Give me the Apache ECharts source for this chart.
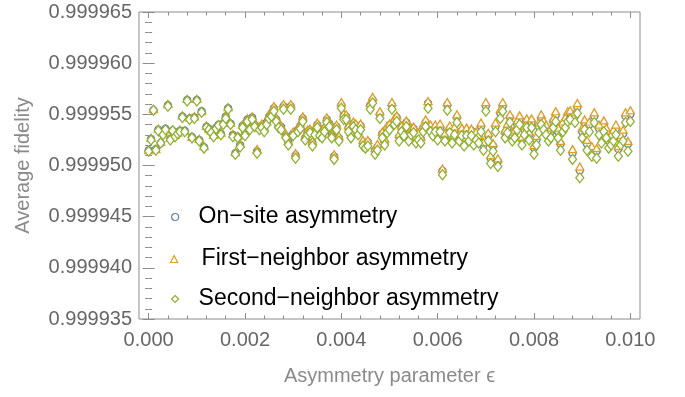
<!DOCTYPE html>
<html>
<head>
<meta charset="utf-8">
<script src="https://cdn.jsdelivr.net/npm/echarts@6/dist/echarts.min.js"></script>
<style>
  html, body { margin: 0; padding: 0; background: #ffffff; }
  #chart { width: 685px; height: 397px; }
</style>
</head>
<body>
<div id="chart"></div>
<script>
// Asymmetry parameter grid: 0 to 0.01 in steps of 5e-5
const epsilon = Array.from({ length: 201 }, (_, i) => +(i * 0.00005).toFixed(5));

// Average fidelity for on-site asymmetry
const onSite = [
  0.9999515,0.9999526,0.9999554,0.9999516,0.9999535,0.9999522,0.9999531,0.9999536,0.9999559,0.9999526,
  0.9999534,0.9999529,0.9999532,0.9999534,0.9999548,0.9999534,0.9999564,0.9999546,0.9999528,0.9999547,
  0.9999564,0.9999525,0.9999553,0.9999518,0.9999538,0.9999536,0.9999533,0.9999529,0.9999537,0.999954,
  0.9999531,0.9999541,0.9999548,0.9999556,0.9999541,0.999953,0.9999512,0.9999528,0.999952,
  0.9999539,0.9999531,0.9999545,0.9999537,0.9999547,0.999954,0.9999514,0.9999537,0.9999539,0.9999535,
  0.9999542,0.9999548,0.9999551,0.9999556,0.9999545,0.9999539,0.9999538,0.9999558,0.9999529,0.9999523,
  0.9999558,0.9999531,0.999951,0.9999535,0.9999539,0.9999546,0.9999527,0.9999533,0.9999534,0.9999522,
  0.9999533,0.999954,0.9999532,0.9999529,0.9999536,0.9999545,0.9999541,0.999953,0.9999509,0.9999538,
  0.9999527,0.9999559,0.9999549,0.9999548,0.9999537,0.999953,0.9999541,0.9999539,0.9999533,0.9999539,
  0.9999522,0.999952,0.9999523,0.9999559,0.9999564,0.9999515,0.9999518,0.999955,0.9999531,0.9999523,
  0.9999536,0.9999539,0.9999559,0.9999543,0.9999547,0.9999528,0.9999537,0.9999533,0.9999542,0.9999528,
  0.9999534,0.9999536,0.9999526,0.9999529,0.9999526,0.9999537,0.9999542,0.9999561,0.9999537,0.9999533,
  0.9999537,0.999953,0.9999537,0.9999495,0.9999529,0.9999559,0.9999536,0.9999527,0.9999534,0.9999547,
  0.9999528,0.9999534,0.9999524,0.9999533,0.9999529,0.9999534,0.9999525,0.9999529,0.9999527,0.9999538,
  0.999952,0.9999558,0.9999529,0.9999507,0.9999519,0.9999538,0.9999504,0.9999551,0.9999558,0.9999532,
  0.9999537,0.9999547,0.9999529,0.9999532,0.999954,0.9999545,0.9999525,0.9999535,0.9999543,0.999953,
  0.9999542,0.9999517,0.9999525,0.9999538,0.9999546,0.999954,0.9999536,0.999953,0.9999533,0.9999543,
  0.9999549,0.9999533,0.9999521,0.9999539,0.9999543,0.9999549,0.9999551,0.9999512,0.9999548,0.9999557,
  0.9999495,0.9999533,0.9999541,0.9999521,0.999954,0.9999515,0.9999548,0.9999514,0.9999536,0.9999528,
  0.999954,0.9999533,0.9999524,0.9999526,0.9999531,0.9999536,0.9999516,0.9999526,0.9999531,0.9999548,
  0.9999521,0.999955
];

// Average fidelity for first-neighbor asymmetry
const firstNeighbor = [
  0.9999515,0.9999527,0.9999555,0.9999516,0.9999536,0.9999523,0.9999532,0.9999536,0.999956,0.9999527,
  0.9999535,0.999953,0.9999532,0.9999535,0.9999549,0.9999534,0.9999565,0.9999547,0.9999528,0.9999548,
  0.9999565,0.9999526,0.9999553,0.9999519,0.9999539,0.9999536,0.9999534,0.999953,0.9999538,0.999954,
  0.9999532,0.9999542,0.9999549,0.9999557,0.9999542,0.9999531,0.9999513,0.9999529,0.9999521,
  0.999954,0.9999533,0.9999546,0.9999539,0.9999548,0.9999542,0.9999516,0.9999538,0.9999541,0.9999537,
  0.9999543,0.999955,0.9999552,0.9999558,0.9999547,0.9999541,0.9999539,0.999956,0.9999531,0.9999524,
  0.999956,0.9999533,0.9999512,0.9999537,0.999954,0.9999548,0.9999529,0.9999535,0.9999536,0.9999524,
  0.9999534,0.9999542,0.9999534,0.9999531,0.9999538,0.9999547,0.9999543,0.9999531,0.9999511,0.999954,
  0.9999529,0.9999562,0.9999551,0.999955,0.9999539,0.9999533,0.9999543,0.9999541,0.9999536,0.9999541,
  0.9999525,0.9999522,0.9999525,0.9999561,0.9999567,0.9999517,0.9999521,0.9999553,0.9999533,0.9999526,
  0.9999539,0.9999541,0.9999562,0.9999546,0.9999549,0.9999531,0.9999539,0.9999536,0.9999544,0.9999531,
  0.9999537,0.9999538,0.9999529,0.9999532,0.9999528,0.999954,0.9999545,0.9999563,0.999954,0.9999536,
  0.999954,0.9999533,0.9999541,0.9999497,0.9999532,0.9999562,0.9999539,0.999953,0.9999538,0.999955,
  0.9999531,0.9999537,0.9999527,0.9999537,0.9999532,0.9999536,0.9999528,0.9999533,0.999953,0.9999542,
  0.9999523,0.9999562,0.9999532,0.999951,0.9999522,0.9999542,0.9999507,0.9999555,0.9999562,0.9999535,
  0.9999541,0.999955,0.9999533,0.9999535,0.9999544,0.9999549,0.9999528,0.9999539,0.9999546,0.9999533,
  0.9999546,0.999952,0.9999529,0.9999542,0.999955,0.9999544,0.999954,0.9999533,0.9999537,0.9999546,
  0.9999553,0.9999537,0.9999524,0.9999543,0.9999547,0.9999553,0.9999554,0.9999516,0.9999552,0.9999561,
  0.9999499,0.9999537,0.9999545,0.9999525,0.9999543,0.9999519,0.9999552,0.9999517,0.999954,0.9999532,
  0.9999544,0.9999537,0.9999527,0.999953,0.9999535,0.999954,0.9999519,0.999953,0.9999535,0.9999552,
  0.9999524,0.9999554
];

// Average fidelity for second-neighbor asymmetry
const secondNeighbor = [
  0.9999514,0.9999525,0.9999554,0.9999515,0.9999534,0.9999522,0.999953,0.9999535,0.9999558,0.9999525,
  0.9999534,0.9999528,0.9999531,0.9999533,0.9999547,0.9999533,0.9999563,0.9999545,0.9999527,0.9999546,
  0.9999563,0.9999524,0.9999552,0.9999517,0.9999537,0.9999535,0.9999532,0.9999528,0.9999536,0.9999539,
  0.999953,0.999954,0.9999546,0.9999555,0.999954,0.9999528,0.9999511,0.9999527,0.9999518,
  0.9999537,0.9999529,0.9999543,0.9999535,0.9999545,0.9999538,0.9999512,0.9999535,0.9999537,0.9999533,
  0.999954,0.9999546,0.9999548,0.9999553,0.9999543,0.9999537,0.9999535,0.9999555,0.9999527,0.999952,
  0.9999555,0.9999529,0.9999507,0.9999533,0.9999536,0.9999543,0.9999525,0.999953,0.9999532,0.9999519,
  0.999953,0.9999537,0.9999529,0.9999527,0.9999533,0.9999542,0.9999538,0.9999527,0.9999506,0.9999535,
  0.9999524,0.9999556,0.9999545,0.9999545,0.9999533,0.9999527,0.9999538,0.9999535,0.999953,0.9999535,
  0.9999519,0.9999517,0.9999519,0.9999555,0.9999561,0.9999511,0.9999515,0.9999546,0.9999527,0.999952,
  0.9999532,0.9999535,0.9999555,0.999954,0.9999543,0.9999524,0.9999533,0.9999529,0.9999538,0.9999524,
  0.999953,0.9999532,0.9999522,0.9999525,0.9999522,0.9999533,0.9999538,0.9999556,0.9999533,0.9999529,
  0.9999533,0.9999525,0.9999533,0.9999491,0.9999524,0.9999554,0.9999532,0.9999522,0.999953,0.9999542,
  0.9999524,0.9999529,0.9999519,0.9999529,0.9999524,0.9999529,0.999952,0.9999525,0.9999522,0.9999533,
  0.9999515,0.9999553,0.9999524,0.9999502,0.9999514,0.9999533,0.9999499,0.9999546,0.9999553,0.9999527,
  0.9999532,0.9999542,0.9999524,0.9999527,0.9999535,0.999954,0.999952,0.999953,0.9999537,0.9999525,
  0.9999537,0.9999511,0.999952,0.9999532,0.999954,0.9999535,0.999953,0.9999524,0.9999527,0.9999537,
  0.9999543,0.9999527,0.9999515,0.9999533,0.9999537,0.9999543,0.9999545,0.9999506,0.9999542,0.9999551,
  0.9999488,0.9999527,0.9999535,0.9999515,0.9999533,0.9999509,0.9999542,0.9999507,0.999953,0.9999522,
  0.9999533,0.9999527,0.9999517,0.999952,0.9999524,0.999953,0.9999509,0.999952,0.9999524,0.9999542,
  0.9999514,0.9999543
];

const seriesNames = ['On\u2212site asymmetry', 'First\u2212neighbor asymmetry', 'Second\u2212neighbor asymmetry'];
const xTicks = [0, 0.002, 0.004, 0.006, 0.008, 0.01];
const yTicks = [0.999935, 0.99994, 0.999945, 0.99995, 0.999955, 0.99996, 0.999965];

// minor ticks: 4 between consecutive major x ticks, 4 between major y ticks
function minorBetween(major, parts) {
  const out = [];
  for (let k = 0; k + 1 < major.length; k++) {
    const step = (major[k + 1] - major[k]) / parts;
    for (let j = 1; j < parts; j++) out.push(major[k] + j * step);
  }
  return out;
}
const xMinor = minorBetween(xTicks, 5);
const yMinor = minorBetween(yTicks, 5);

const FONT = '"Liberation Sans", Arial, Helvetica, sans-serif';
const FRAME = '#8c8c8c';
const TICK_TEXT = '#666666';
const TITLE_TEXT = '#8a8a8a';
const COLORS = ['#5e81b5', '#e19c24', '#8fb032'];
const SYMBOLS = ['circle', 'triangle', 'diamond'];
const SIZES = [[7, 7], [8, 7], [8, 10]];

const X_MIN = -0.0002, X_MAX = 0.0102;
const Y_MIN = 0.999935, Y_MAX = 0.999965;

function tickAxis(kind, position, values, len, labelled) {
  const base = {
    type: 'value',
    position: position,
    min: kind === 'x' ? X_MIN : Y_MIN,
    max: kind === 'x' ? X_MAX : Y_MAX,
    axisLine: { show: false },
    splitLine: { show: false },
    axisTick: { show: true, inside: true, length: len, customValues: values, lineStyle: { color: FRAME, width: 1 } },
    axisLabel: { show: false }
  };
  if (labelled) {
    base.axisLabel = {
      show: true,
      customValues: values,
      formatter: kind === 'x' ? (v) => v.toFixed(3) : (v) => v.toFixed(6),
      color: TICK_TEXT,
      fontSize: 20,
      fontFamily: FONT,
      margin: kind === 'x' ? 11 : 7
    };
  }
  return base;
}

const xMain = tickAxis('x', 'bottom', xTicks, 6, true);
xMain.name = 'Asymmetry parameter \u03f5';
xMain.nameLocation = 'middle';
xMain.nameGap = 47;
xMain.nameMoveOverlap = false;
xMain.nameTextStyle = { color: TITLE_TEXT, fontSize: 20, fontFamily: FONT, verticalAlign: 'top' };

const yMain = tickAxis('y', 'left', yTicks, 6, true);
yMain.name = 'Average fidelity';
yMain.nameLocation = 'middle';
yMain.nameGap = 106;
yMain.nameRotate = 90;
yMain.nameTextStyle = { color: TITLE_TEXT, fontSize: 20, fontFamily: FONT };

const data = [onSite, firstNeighbor, secondNeighbor];

// legend rows: icon centre near x=174, text indented after it
const legendLayout = [
  { top: 217, left: 171, pad: 15 },
  { top: 259, left: 170, pad: 19 },
  { top: 299, left: 171, pad: 15 }
];

const option = {
  animation: false,
  backgroundColor: '#ffffff',
  grid: { left: 139, right: 45, top: 12, bottom: 78, show: true, borderColor: FRAME, borderWidth: 1, backgroundColor: 'transparent' },
  xAxis: [
    xMain,
    tickAxis('x', 'bottom', xMinor, 3.5, false),
    tickAxis('x', 'top', xTicks, 6, false),
    tickAxis('x', 'top', xMinor, 3.5, false)
  ],
  yAxis: [
    yMain,
    tickAxis('y', 'left', yMinor, 3.5, false),
    tickAxis('y', 'right', yTicks, 6, false),
    tickAxis('y', 'right', yMinor, 3.5, false)
  ],
  legend: seriesNames.map((name, k) => ({
    data: [name],
    orient: 'vertical',
    top: legendLayout[k].top - 12,
    left: legendLayout[k].left,
    itemWidth: 7,
    itemHeight: 7,
    selectedMode: false,
    padding: 0,
    itemStyle: { borderWidth: 1.2 },
    textStyle: { fontSize: 23, color: '#000000', fontFamily: FONT, lineHeight: 24, padding: [0, 0, 0, legendLayout[k].pad] }
  })),
  series: seriesNames.map((name, k) => ({
    name: name,
    type: 'scatter',
    xAxisIndex: 0,
    yAxisIndex: 0,
    symbol: SYMBOLS[k],
    symbolSize: SIZES[k],
    itemStyle: { color: '#ffffff', borderColor: COLORS[k], borderWidth: 1.3, opacity: 1 },
    emphasis: { disabled: true },
    data: epsilon.map((e, i) => [e, data[k][i]])
  }))
};

const chart = echarts.init(document.getElementById('chart'), null, { renderer: 'canvas' });
chart.setOption(option);
</script>
</body>
</html>
